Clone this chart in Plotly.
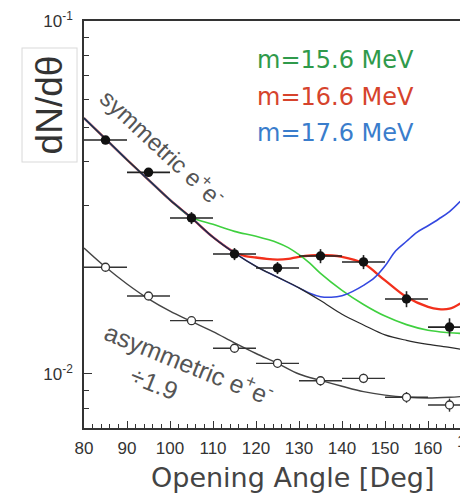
import plotly.graph_objects as go

# ---------------- data ----------------
pt_x = [85, 95, 105, 115, 125, 135, 145, 155, 165]
sym_y = [0.0460, 0.03726, 0.02767, 0.02188, 0.01997, 0.02159, 0.02077, 0.01631, 0.01358]
sym_err = [0.0012, 0.00097, 0.00108, 0.00086, 0.00078, 0.00099, 0.00095, 0.00085, 0.0008]
asym_y = [0.02006, 0.01663, 0.01416, 0.01183, 0.01072, 0.00957, 0.00972, 0.00859, 0.00817]
asym_err = [0.0003, 0.0003, 0.0003, 0.0003, 0.0003, 0.0003, 0.0003, 0.0003, 0.00035]
x_halfwidth = 5

bg_x = [80, 85, 90, 95, 100, 105, 110, 115, 120, 125, 130, 135, 140, 145, 150, 155, 160, 165, 167.5]
bg_y = [0.05309, 0.04634, 0.04046, 0.03548, 0.03112, 0.02767, 0.02441, 0.02203, 0.02018, 0.01881,
        0.01754, 0.01614, 0.01476, 0.01377, 0.01291, 0.01245, 0.01213, 0.01189, 0.01175]

red_x = [80, 85, 90, 95, 100, 105, 110, 115, 117.5, 120, 122.5, 125, 127.5, 130, 135, 140, 145,
         150, 155, 160, 162.5, 165, 167.5]
red_y = [0.05309, 0.04634, 0.04046, 0.03548, 0.03112, 0.02767, 0.02441, 0.02213, 0.02158, 0.02138,
         0.02118, 0.02109, 0.02118, 0.02148, 0.02173, 0.02148, 0.02056, 0.01841, 0.01652, 0.01549,
         0.01526, 0.01531, 0.01585]

green_x = [80, 85, 90, 95, 100, 105, 110, 115, 120, 125, 127.5, 130, 132.5, 135, 140, 145, 150,
           155, 160, 165, 167.5]
green_y = [0.05309, 0.04634, 0.04046, 0.03548, 0.03112, 0.02780, 0.02655, 0.02535, 0.02455, 0.02355,
           0.02280, 0.02178, 0.02061, 0.01928, 0.01726, 0.01574, 0.01459, 0.01380, 0.01330, 0.01309,
           0.01303]

blue_x = [80, 85, 90, 95, 100, 105, 110, 115, 120, 125, 130, 132.5, 135, 137.5, 140, 142.5, 145,
          147.5, 150, 152.5, 155, 157.5, 160, 162.5, 165, 167.5]
blue_y = [0.05309, 0.04634, 0.04046, 0.03548, 0.03112, 0.02767, 0.02441, 0.02203, 0.02018, 0.01881,
          0.01754, 0.01694, 0.01656, 0.01650, 0.01667, 0.01714, 0.01782, 0.01871, 0.02023, 0.02234,
          0.02377, 0.02523, 0.02630, 0.02748, 0.02884, 0.03083]

asbg_x = [80, 85, 90, 95, 100, 105, 110, 115, 120, 125, 130, 135, 140, 145, 150, 155, 160, 165, 167.5]
asbg_y = [0.02275, 0.02009, 0.01799, 0.01633, 0.01507, 0.01409, 0.01318, 0.01225, 0.01143, 0.01072,
          0.01000, 0.00959, 0.00923, 0.00891, 0.00871, 0.00859, 0.00855, 0.00859, 0.00863]

mass_labels = ["m=15.6 MeV", "m=16.6 MeV", "m=17.6 MeV"]
mass_colors = ["#2f9a4b", "#d6432c", "#3a7dcc"]

x_major = [80, 90, 100, 110, 120, 130, 140, 150, 160]
x_minor = list(range(80, 168, 2))
y_major = [0.01, 0.1]
y_major_text = ["10<sup>-2</sup>", "10<sup>-1</sup>"]
y_minor = [0.008, 0.009, 0.02, 0.03, 0.04, 0.05, 0.06, 0.07, 0.08, 0.09]

# ---------------- figure ----------------
fig = go.Figure()

fig.add_trace(go.Scatter(x=red_x, y=red_y, mode="lines", line=dict(color="#f2301c", width=2.3, shape="spline")))
fig.add_trace(go.Scatter(x=green_x, y=green_y, mode="lines", line=dict(color="#3fd03f", width=1.6, shape="spline")))
fig.add_trace(go.Scatter(x=blue_x, y=blue_y, mode="lines", line=dict(color="#3448e0", width=1.6, shape="spline")))
fig.add_trace(go.Scatter(x=bg_x, y=bg_y, mode="lines", line=dict(color="#2a2a2a", width=1.2, shape="spline")))
fig.add_trace(go.Scatter(x=asbg_x, y=asbg_y, mode="lines", line=dict(color="#444444", width=1.4, shape="spline")))

fig.add_trace(go.Scatter(
    x=pt_x, y=sym_y, mode="markers",
    marker=dict(symbol="circle", size=9.5, color="#111111"),
    error_x=dict(type="constant", value=x_halfwidth, width=0, thickness=1.6, color="#222222"),
    error_y=dict(type="data", array=sym_err, width=0, thickness=1.6, color="#222222"),
))
fig.add_trace(go.Scatter(
    x=pt_x, y=asym_y, mode="markers",
    marker=dict(symbol="circle", size=8, color="white", line=dict(color="#333333", width=1.3)),
    error_x=dict(type="constant", value=x_halfwidth, width=0, thickness=1.4, color="#333333"),
    error_y=dict(type="data", array=asym_err, width=0, thickness=1.4, color="#333333"),
))

tick_font = dict(family="Liberation Sans, Arial, sans-serif", size=17, color="#333333")

fig.update_layout(
    width=460, height=496,
    margin=dict(l=84, r=0, t=21, b=68, pad=0),
    paper_bgcolor="white", plot_bgcolor="white",
    showlegend=False,
    xaxis=dict(
        range=[80, 167.44], showgrid=False, zeroline=False,
        showline=True, linecolor="#333333", linewidth=1.5, mirror=True,
        ticks="inside", ticklen=7, tickwidth=1.2, tickcolor="#333333",
        tickmode="array", tickvals=x_major, ticktext=[str(v) for v in x_major],
        tickfont=tick_font, ticklabelstandoff=4,
        minor=dict(tickmode="array", tickvals=x_minor, ticks="inside", ticklen=4,
                   tickwidth=1, tickcolor="#333333"),
    ),
    yaxis=dict(
        type="log", range=[-2.153, -1], showgrid=False, zeroline=False,
        showline=True, linecolor="#333333", linewidth=1.5, mirror=False,
        ticks="inside", ticklen=8, tickwidth=1.2, tickcolor="#333333",
        tickmode="array", tickvals=y_major, ticktext=y_major_text,
        tickfont=tick_font, ticklabelstandoff=6,
        minor=dict(tickmode="array", tickvals=y_minor, ticks="inside", ticklen=5,
                   tickwidth=1, tickcolor="#333333"),
    ),
)

# legend-like colored labels
leg_y = [0.9042, 0.8133, 0.7248]
for lab, col, yy in zip(mass_labels, mass_colors, leg_y):
    fig.add_annotation(text=lab, xref="paper", yref="paper", x=0.4548, y=yy,
                       xanchor="left", yanchor="middle", showarrow=False,
                       font=dict(family="DejaVu Sans", size=24, color=col))

txt_col = "#555555"
fig.add_annotation(text="symmetric e<sup>+</sup>e<sup>-</sup>", xref="paper", yref="paper",
                   x=0.2101, y=0.6904, xanchor="center", yanchor="middle",
                   textangle=43, showarrow=False,
                   font=dict(family="Liberation Sans, Arial, sans-serif", size=24, color=txt_col))
fig.add_annotation(text="asymmetric e<sup>+</sup>e<sup>-</sup>", xref="paper", yref="paper",
                   x=0.2819, y=0.1597, xanchor="center", yanchor="middle",
                   textangle=22, showarrow=False,
                   font=dict(family="Liberation Sans, Arial, sans-serif", size=25, color=txt_col))
fig.add_annotation(text="÷1.9", xref="paper", yref="paper",
                   x=0.1862, y=0.1106, xanchor="center", yanchor="middle",
                   textangle=22, showarrow=False,
                   font=dict(family="Liberation Sans, Arial, sans-serif", size=25, color=txt_col))

# y axis title in a box
fig.add_annotation(text="dN/dθ", xref="paper", yref="paper", x=-0.0904, y=0.7924,
                   xanchor="center", yanchor="middle",
                   textangle=-90, showarrow=False, width=113, height=54,
                   bordercolor="#d9d9d9", borderwidth=1, borderpad=0, bgcolor="white",
                   font=dict(family="Liberation Sans, Arial", size=37, color="#333333"))

# x axis title
fig.add_annotation(text="Opening Angle [Deg]", xref="paper", yref="paper", x=0.5532, y=-0.1204,
                   xanchor="center", yanchor="middle", showarrow=False,
                   font=dict(family="DejaVu Sans", size=27, color="#444444"))

# partially visible 170 tick label at the cut right edge
fig.add_annotation(text="170", xref="paper", yref="paper", x=1.0293, y=-0.032,
                   xanchor="center", yanchor="middle", showarrow=False, font=tick_font)

fig.write_html("out.html")
